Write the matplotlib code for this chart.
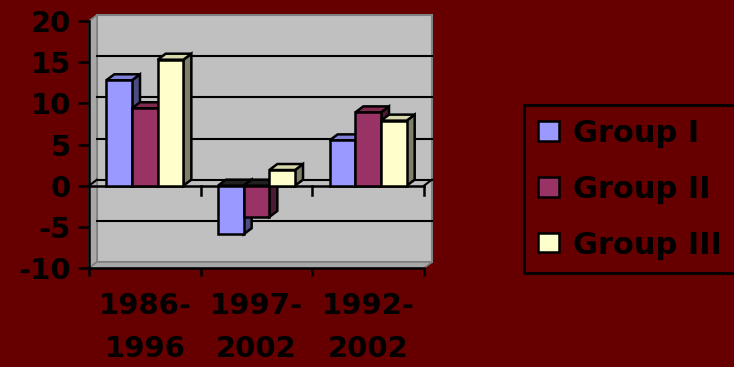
import numpy as np
import matplotlib
matplotlib.use("Agg")
import matplotlib.pyplot as plt
from matplotlib.patches import Polygon

# -----------------------------
# Data
# -----------------------------
periods = ["1986-\n1996", "1997-\n2002", "1992-\n2002"]
groups = ["Group I", "Group II", "Group III"]
group_i = [12.8, -5.9, 5.5]
group_ii = [9.4, -3.8, 8.9]
group_iii = [15.3, 1.9, 7.9]
yticks = [-10, -5, 0, 5, 10, 15, 20]

values = [group_i, group_ii, group_iii]
front_cols = ["#9999FF", "#993366", "#FFFFCC"]
top_cols = ["#8080D8", "#80294F", "#D8D8AC"]
side_cols = ["#4D4D80", "#4D1A33", "#80806A"]

bg = "#660000"
W, H = 734, 367

fig = plt.figure(figsize=(W / 100, H / 100), dpi=100, facecolor=bg)
# front plot area in pixels: x 89..424, y 21..268
ax = fig.add_axes([89 / W, (H - 268) / H, 335 / W, 247 / H])
ax.set_xlim(0, 3)
ax.set_ylim(-10, 20)
ax.patch.set_visible(False)

# 3D depth in data units (about 8 px right, 6 px up)
dx = 8 * 3 / 335
dy = 6 * 30 / 247

# -----------------------------
# Walls
# -----------------------------
wall = Polygon([(dx, -10 + dy), (3 + dx, -10 + dy), (3 + dx, 20 + dy), (dx, 20 + dy)],
               closed=True, fc="#C0C0C0", ec="#808080", lw=1.5, clip_on=False, zorder=0)
side_wall = Polygon([(0, -10), (dx, -10 + dy), (dx, 20 + dy), (0, 20)],
                    closed=True, fc="#A8A8A8", ec="#808080", lw=1.2, clip_on=False, zorder=0.5)
floor = Polygon([(0, -10), (3, -10), (3 + dx, -10 + dy), (dx, -10 + dy)],
                closed=True, fc="#A8A8A8", ec="#808080", lw=1.2, clip_on=False, zorder=0.5)
for p in (wall, side_wall, floor):
    ax.add_patch(p)

# gridlines on back wall
for v in [-5, 0, 5, 10, 15]:
    ax.plot([dx, 3 + dx], [v + dy, v + dy], color="black", lw=1.5, clip_on=False, zorder=1)

# zero plane edges
ax.plot([0, 3], [0, 0], color="black", lw=1.8, clip_on=False, zorder=1.2)
ax.plot([0, dx], [0, dy], color="black", lw=1.5, clip_on=False, zorder=1.2)
ax.plot([3, 3 + dx], [0, dy], color="black", lw=1.5, clip_on=False, zorder=1.2)
for c in [1, 2, 3]:
    ax.plot([c, c], [0, -1.1], color="black", lw=1.8, clip_on=False, zorder=1.2)

# -----------------------------
# Bars with 3D faces
# -----------------------------
w = 0.23
x = np.arange(len(periods)) + 0.5
handles = []
for k, vals in enumerate(values):
    xs = x + (k - 1.5) * w
    z = 3 + k
    bars = ax.bar(xs, vals, width=w, align="edge", color=front_cols[k],
                  edgecolor="black", lw=1.8, zorder=z + 0.1, label=groups[k])
    handles.append(bars)
    for xl, v in zip(xs, vals):
        xr = xl + w
        top = max(v, 0)
        lo = min(v, 0)
        side = Polygon([(xr, lo), (xr + dx, lo + dy), (xr + dx, top + dy), (xr, top)],
                       closed=True, fc=side_cols[k], ec="black", lw=1.8, zorder=z)
        cap = Polygon([(xl, top), (xr, top), (xr + dx, top + dy), (xl + dx, top + dy)],
                      closed=True, fc=top_cols[k] if v >= 0 else "#202020",
                      ec="black", lw=1.8, zorder=z)
        ax.add_patch(side)
        ax.add_patch(cap)

# -----------------------------
# Axes styling
# -----------------------------
for s in ["top", "right"]:
    ax.spines[s].set_visible(False)
for s in ["left", "bottom"]:
    ax.spines[s].set_linewidth(1.8)
    ax.spines[s].set_color("black")

font = dict(family="DejaVu Sans", weight="bold", size=21)

ax.set_yticks(yticks)
ax.set_yticklabels([str(t) for t in yticks], fontdict=font)
ax.tick_params(axis="y", direction="out", length=8, width=1.8, pad=5, colors="black")

ax.set_xticks([0, 1, 2, 3])
ax.set_xticklabels([])
ax.tick_params(axis="x", which="major", direction="out", length=6, width=1.8)
ax.set_xticks(x, minor=True)
ax.set_xticklabels(periods, minor=True, fontdict=font, linespacing=1.7)
ax.tick_params(axis="x", which="minor", length=0, pad=17)

# -----------------------------
# Legend
# -----------------------------
leg = fig.legend(handles=handles, labels=groups, loc="upper left",
                 bbox_to_anchor=(524 / W, 1 - 105 / H), borderaxespad=0,
                 prop=dict(family="DejaVu Sans", weight="bold", size=22),
                 handlelength=0.7, handleheight=0.6, handletextpad=0.45,
                 labelspacing=0.88, borderpad=0.45, fancybox=False,
                 facecolor=bg, edgecolor="black", framealpha=1)
leg.get_frame().set_linewidth(2)

fig.savefig("out.png", dpi=100, facecolor=bg)
